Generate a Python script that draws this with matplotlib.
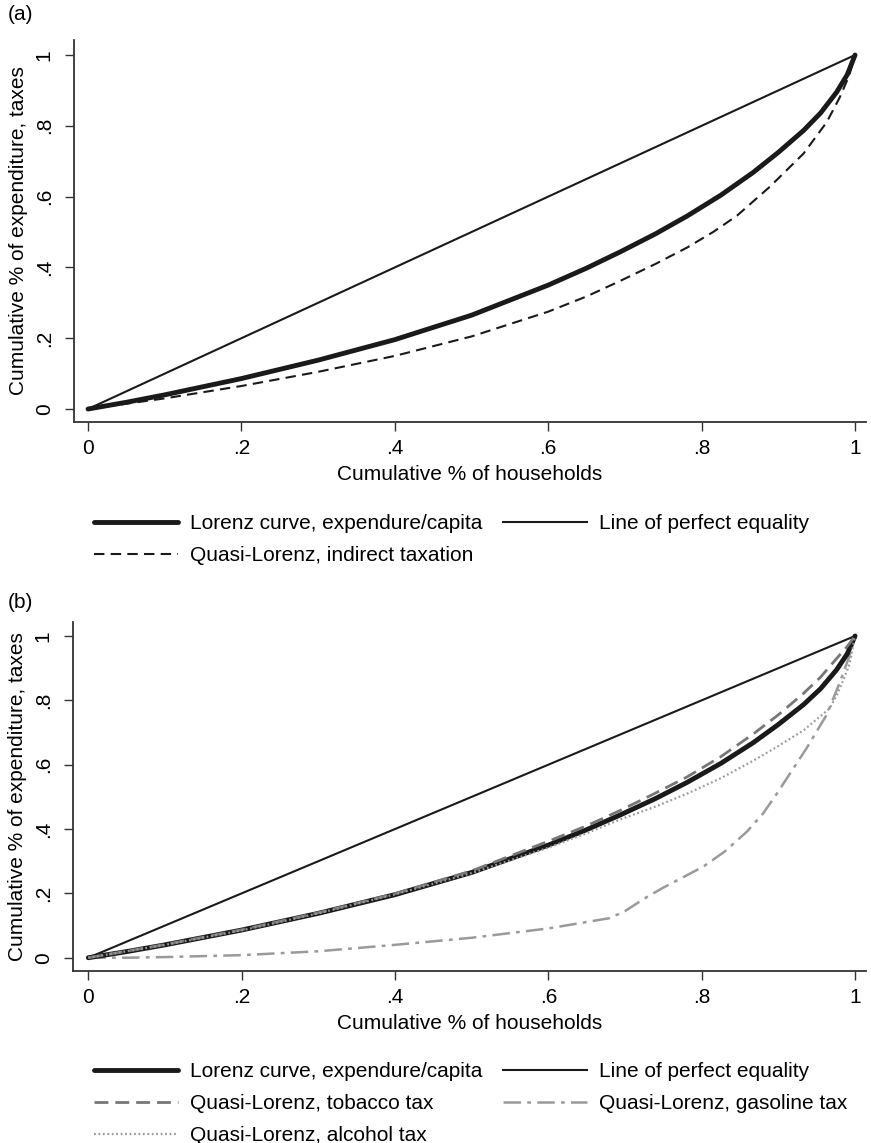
import matplotlib

matplotlib.use("Agg")
import matplotlib.pyplot as plt

plt.rcParams["font.family"] = ["Liberation Sans", "DejaVu Sans"]

# shared Lorenz curve (expenditure per capita)
lorenz_x = [0, 0.05, 0.1, 0.2, 0.3, 0.4, 0.5, 0.6, 0.65, 0.694, 0.74, 0.781, 0.825, 0.867,
            0.9, 0.933, 0.955, 0.976, 0.99, 1.0]
lorenz_y = [0, 0.019, 0.04, 0.086, 0.138, 0.196, 0.265, 0.35, 0.398, 0.444, 0.495, 0.545, 0.604, 0.668,
            0.725, 0.787, 0.836, 0.895, 0.945, 1.0]

equal_x = [0, 1]
equal_y = [0, 1]

# panel (a): indirect taxation
indirect_x = [0, 0.1, 0.2, 0.3, 0.4, 0.5, 0.6, 0.65, 0.694, 0.74, 0.781, 0.815, 0.846, 0.889,
              0.933, 0.963, 0.98, 0.992, 1.0]
indirect_y = [0, 0.03, 0.065, 0.105, 0.15, 0.205, 0.275, 0.318, 0.362, 0.41, 0.456, 0.5, 0.546, 0.628,
              0.722, 0.81, 0.88, 0.94, 1.0]

# panel (b): specific taxes
tobacco_x = [0, 0.1, 0.2, 0.3, 0.4, 0.5, 0.6, 0.65, 0.694, 0.74, 0.781, 0.825, 0.867,
             0.9, 0.933, 0.955, 0.976, 0.99, 1.0]
tobacco_y = [0, 0.041, 0.087, 0.14, 0.199, 0.27, 0.362, 0.41, 0.458, 0.512, 0.562, 0.625, 0.695,
             0.755, 0.822, 0.872, 0.93, 0.968, 1.0]

alcohol_x = [0, 0.1, 0.2, 0.3, 0.4, 0.5, 0.6, 0.65, 0.694, 0.74, 0.781, 0.825, 0.867,
             0.9, 0.933, 0.967, 0.977, 0.985, 0.993, 1.0]
alcohol_y = [0, 0.04, 0.085, 0.138, 0.197, 0.263, 0.342, 0.387, 0.43, 0.47, 0.51, 0.558, 0.612,
             0.658, 0.707, 0.775, 0.82, 0.865, 0.914, 1.0]

gasoline_x = [0, 0.05, 0.1, 0.2, 0.3, 0.4, 0.5, 0.6, 0.68, 0.7, 0.726, 0.75, 0.802, 0.83, 0.859,
              0.88, 0.898, 0.92, 0.937, 0.963, 0.98, 0.993, 1.0]
gasoline_y = [0, 0.0, 0.002, 0.008, 0.02, 0.04, 0.062, 0.091, 0.123, 0.145, 0.185, 0.218, 0.283, 0.33,
              0.392, 0.448, 0.51, 0.59, 0.652, 0.755, 0.855, 0.94, 1.0]

xticks = [0, 0.2, 0.4, 0.6, 0.8, 1.0]
xtick_labels = ["0", ".2", ".4", ".6", ".8", "1"]
yticks = [0, 0.2, 0.4, 0.6, 0.8, 1.0]
ytick_labels = ["0", ".2", ".4", ".6", ".8", "1"]

W, H = 871, 1143
FS = 15


def style_axes(ax, ylim):
    ax.set_xlim(-0.0183, 1.0143)
    ax.set_ylim(*ylim)
    for s in ("top", "right"):
        ax.spines[s].set_visible(False)
    for s in ("left", "bottom"):
        ax.spines[s].set_linewidth(1.3)
        ax.spines[s].set_color("#333333")
    ax.set_xticks(xticks)
    ax.set_xticklabels(xtick_labels)
    ax.set_yticks(yticks)
    ax.set_yticklabels(ytick_labels, rotation=90, va="center")
    ax.tick_params(direction="out", length=6.5, width=1.0, color="#333333", labelsize=FS)
    ax.tick_params(axis="x", pad=6)
    ax.tick_params(axis="y", pad=8)
    ax.set_xlabel("Cumulative % of households", fontsize=FS, labelpad=5)
    ax.set_ylabel("Cumulative % of expenditure, taxes", fontsize=FS, labelpad=5)


fig = plt.figure(figsize=(W / 100, H / 100), dpi=100)
leg_kw = dict(loc="upper left", ncol=2, frameon=False, fontsize=FS, handlelength=4.0,
              handletextpad=0.6, columnspacing=1.0, labelspacing=0.62, borderaxespad=0)

# ---- panel (a)
ax_a = fig.add_axes([74 / W, 1 - 422 / H, (866 - 74) / W, (422 - 40) / H])
style_axes(ax_a, (-0.0367, 1.0424))
l_lor, = ax_a.plot(lorenz_x, lorenz_y, color="#1a1a1a", lw=3.5, solid_capstyle="round",
                   solid_joinstyle="round", label="Lorenz curve, expendure/capita")
l_eq, = ax_a.plot(equal_x, equal_y, color="#1a1a1a", lw=1.5, label="Line of perfect equality")
l_ind, = ax_a.plot(indirect_x, indirect_y, color="#1a1a1a", lw=1.5, ls=(0, (5, 3)),
                   label="Quasi-Lorenz, indirect taxation")
fig.text(8 / W, 1 - 15 / H, "(a)", fontsize=FS, va="center", ha="left")
fig.legend([l_lor, l_ind, l_eq], [h.get_label() for h in (l_lor, l_ind, l_eq)],
           bbox_to_anchor=(86 / W, 1 - 506 / H), **leg_kw)

# ---- panel (b)
ax_b = fig.add_axes([73 / W, 1 - 971 / H, (866 - 73) / W, (971 - 621.7) / H])
style_axes(ax_b, (-0.0413, 1.0444))
ax_b.set_xlim(-0.0183 - 1.3 / 767, 1.0143)
b_eq, = ax_b.plot(equal_x, equal_y, color="#1a1a1a", lw=1.5, label="Line of perfect equality")
b_gas, = ax_b.plot(gasoline_x, gasoline_y, color="#9a9a9a", lw=1.8, ls=(0, (7, 2.5, 1.5, 2.5)),
                   label="Quasi-Lorenz, gasoline tax")
b_lor, = ax_b.plot(lorenz_x, lorenz_y, color="#1a1a1a", lw=3.5, solid_capstyle="round",
                   solid_joinstyle="round", label="Lorenz curve, expendure/capita")
b_tob, = ax_b.plot(tobacco_x, tobacco_y, color="#777777", lw=2.0, ls=(0, (5, 2.5)),
                   label="Quasi-Lorenz, tobacco tax")
b_alc, = ax_b.plot(alcohol_x, alcohol_y, color="#999999", lw=1.6, ls=(0, (0.8, 1.2)),
                   label="Quasi-Lorenz, alcohol tax")
fig.text(8 / W, 1 - 603 / H, "(b)", fontsize=FS, va="center", ha="left")
order = [b_lor, b_tob, b_alc, b_eq, b_gas]
fig.legend(order, [h.get_label() for h in order],
           bbox_to_anchor=(86 / W, 1 - 1054 / H), **leg_kw)

fig.savefig("out.png", dpi=100)
